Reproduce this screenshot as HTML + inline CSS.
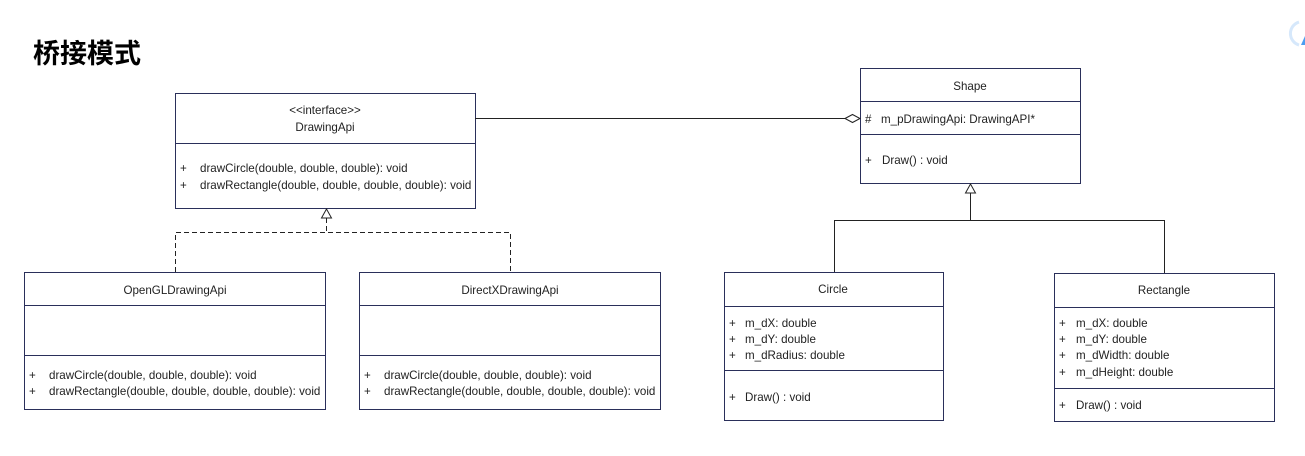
<!DOCTYPE html>
<html><head><meta charset="utf-8"><style>
html,body{margin:0;padding:0;background:#fff;width:1305px;height:456px;overflow:hidden}
svg text{font-family:"Liberation Sans","Noto Sans CJK SC",sans-serif;font-size:11.6px;fill:#222}
</style></head><body>
<svg width="1305" height="456" xmlns="http://www.w3.org/2000/svg">
<text x="33" y="63" style="font-size:27px;font-weight:bold;fill:#000;font-family:'Liberation Sans','Noto Sans CJK SC',sans-serif">桥接模式</text>
<path d="M1299 22 A12 12 0 0 0 1299 45" fill="none" stroke="#d6e8fb" stroke-width="3"/>
<path d="M1301 45 L1305 36 L1305 45Z" fill="#4b9df0"/>
<g fill="#fff" stroke="#2a2f5a" stroke-width="1">
<rect x="175.5" y="93.5" width="300" height="115"/>
<line x1="175" y1="143.5" x2="475" y2="143.5"/>
<rect x="860.5" y="68.5" width="220" height="115"/>
<line x1="860" y1="101.5" x2="1080" y2="101.5"/>
<line x1="860" y1="134.5" x2="1080" y2="134.5"/>
<rect x="24.5" y="272.5" width="301" height="137"/>
<line x1="24" y1="305.5" x2="325" y2="305.5"/>
<line x1="24" y1="355.5" x2="325" y2="355.5"/>
<rect x="359.5" y="272.5" width="301" height="137"/>
<line x1="359" y1="305.5" x2="660" y2="305.5"/>
<line x1="359" y1="355.5" x2="660" y2="355.5"/>
<rect x="724.5" y="272.5" width="219" height="148"/>
<line x1="724" y1="306.5" x2="943" y2="306.5"/>
<line x1="724" y1="370.5" x2="943" y2="370.5"/>
<rect x="1054.5" y="273.5" width="220" height="148"/>
<line x1="1054" y1="307.5" x2="1274" y2="307.5"/>
<line x1="1054" y1="388.5" x2="1274" y2="388.5"/>
</g>
<g fill="none" stroke="#222" stroke-width="1">
<line x1="475" y1="118.5" x2="845" y2="118.5"/>
<path d="M845 118.5 L852.5 114.5 L860 118.5 L852.5 122.5Z" fill="#fff"/>
<path d="M970.5 184 L965.5 193 L975.5 193Z" fill="#fff"/>
<line x1="970.5" y1="193" x2="970.5" y2="220"/>
<path d="M834.5 272 V220.5 H1164.5 V273"/>
<path d="M326.5 209 L321.5 218 L331.5 218Z" fill="#fff"/>
<path d="M326.5 218 V232.5 M175.5 272 V232.5 H510.5 V272" stroke-dasharray="5,3"/>
</g>
<g text-anchor="middle">
<text x="325" y="114">&lt;&lt;interface&gt;&gt;</text>
<text x="325" y="131">DrawingApi</text>
<text x="970" y="90">Shape</text>
<text x="175" y="294">OpenGLDrawingApi</text>
<text x="510" y="294">DirectXDrawingApi</text>
<text x="833" y="293">Circle</text>
<text x="1164" y="294">Rectangle</text>
</g>
<g>
<text x="180" y="172">+</text><text x="200" y="172">drawCircle(double, double, double): void</text>
<text x="180" y="189">+</text><text x="200" y="189">drawRectangle(double, double, double, double): void</text>
<text x="865" y="123">#</text><text x="881" y="123">m_pDrawingApi: DrawingAPI*</text>
<text x="865" y="164">+</text><text x="882" y="164">Draw() : void</text>
<text x="29" y="379">+</text><text x="49" y="379">drawCircle(double, double, double): void</text>
<text x="29" y="395">+</text><text x="49" y="395">drawRectangle(double, double, double, double): void</text>
<text x="364" y="379">+</text><text x="384" y="379">drawCircle(double, double, double): void</text>
<text x="364" y="395">+</text><text x="384" y="395">drawRectangle(double, double, double, double): void</text>
<text x="729" y="327">+</text><text x="745" y="327">m_dX: double</text>
<text x="729" y="343">+</text><text x="745" y="343">m_dY: double</text>
<text x="729" y="359">+</text><text x="745" y="359">m_dRadius: double</text>
<text x="729" y="401">+</text><text x="745" y="401">Draw() : void</text>
<text x="1059" y="327">+</text><text x="1076" y="327">m_dX: double</text>
<text x="1059" y="343">+</text><text x="1076" y="343">m_dY: double</text>
<text x="1059" y="359">+</text><text x="1076" y="359">m_dWidth: double</text>
<text x="1059" y="376">+</text><text x="1076" y="376">m_dHeight: double</text>
<text x="1059" y="409">+</text><text x="1076" y="409">Draw() : void</text>
</g>
</svg>
</body></html>
